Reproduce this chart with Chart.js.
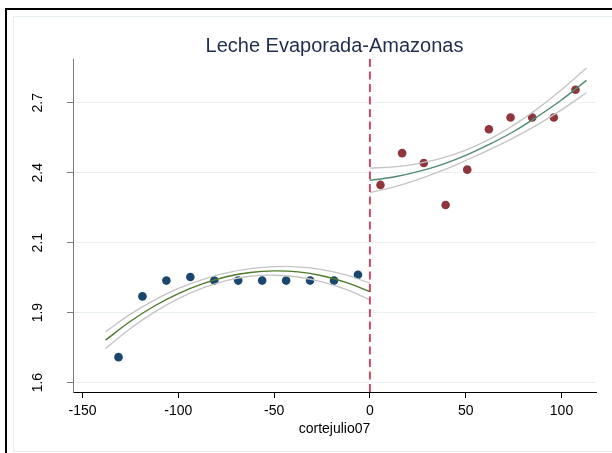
<!DOCTYPE html>
<html>
<head>
<meta charset="utf-8">
<script src="https://cdn.jsdelivr.net/npm/chart.js@4/dist/chart.umd.min.js"></script>
<style>
  html, body { margin: 0; padding: 0; background: #ffffff; }
  #wrap { width: 612px; height: 453px; position: relative; }
</style>
</head>
<body>
<div id="wrap"><canvas id="c" width="612" height="453"></canvas></div>
<script>
// ---- text ----
const chartTitle = 'Leche Evaporada-Amazonas';
const xAxisTitle = 'cortejulio07';

// ---- cutoff ----
const cutoff = 0;

// ---- binned means, left of the cutoff ----
const leftX = [-131.25, -118.75, -106.25, -93.75, -81.25, -68.75, -56.25, -43.75, -31.25, -18.75, -6.25];
const leftY = [1.700, 1.939, 2.001, 2.015, 2.001, 2.001, 2.001, 2.001, 2.001, 2.001, 2.024];

// ---- binned means, right of the cutoff ----
const rightX = [5.5, 16.8, 28.1, 39.5, 50.8, 62.1, 73.4, 84.7, 96.0, 107.3];
const rightY = [2.377, 2.502, 2.463, 2.298, 2.437, 2.596, 2.642, 2.642, 2.642, 2.751];

// ---- fitted curve with its band, left ----
const leftFitX  = [-138, -125, -112.5, -100, -87.5, -75, -62.5, -50, -37.5, -25, -12.5, 0];
const leftFit   = [1.767, 1.841, 1.901, 1.950, 1.988, 2.016, 2.033, 2.039, 2.035, 2.020, 1.994, 1.958];
const leftUpper = [1.800, 1.869, 1.924, 1.970, 2.005, 2.031, 2.048, 2.056, 2.055, 2.044, 2.023, 1.991];
const leftLower = [1.734, 1.813, 1.877, 1.930, 1.971, 2.001, 2.018, 2.022, 2.015, 1.996, 1.966, 1.925];

// ---- fitted curve with its band, right ----
const rightFitX  = [0, 12.5, 25, 37.5, 50, 62.5, 75, 87.5, 100, 113];
const rightFit   = [2.395, 2.408, 2.429, 2.457, 2.493, 2.537, 2.587, 2.646, 2.711, 2.788];
const rightUpper = [2.443, 2.448, 2.461, 2.482, 2.514, 2.557, 2.612, 2.677, 2.751, 2.837];
const rightLower = [2.347, 2.369, 2.398, 2.433, 2.473, 2.516, 2.562, 2.614, 2.672, 2.739];

// ---- axes ----
const xTickValues = [-150, -100, -50, 0, 50, 100];
const yTickValues = [1.6, 1.875, 2.15, 2.425, 2.7];
const yTickLabels = ['1.6', '1.9', '2.1', '2.4', '2.7'];
const xRange = [-155, 118];
const yRange = [1.563, 2.872];

const FONT = '"Liberation Sans", Arial, Helvetica, sans-serif';
const pts = (xs, ys) => xs.map((x, i) => ({ x: x, y: ys[i] }));

const lineStyle = (color, width) => ({
  type: 'line', borderColor: color, borderWidth: width, pointRadius: 0,
  fill: false, tension: 0.4, showLine: true
});

// page frame and title
const framePlugin = {
  id: 'frame',
  beforeDraw(chart) {
    const ctx = chart.ctx;
    ctx.save();
    ctx.fillStyle = '#ffffff';
    ctx.fillRect(0, 0, chart.width, chart.height);
    ctx.fillStyle = '#000000';
    ctx.fillRect(5, 8, chart.width - 5, 2);
    ctx.fillRect(5, 8, 2, chart.height - 8);
    ctx.strokeStyle = '#e6eeee';
    ctx.lineWidth = 1;
    ctx.beginPath();
    ctx.moveTo(chart.width, 16.5);
    ctx.lineTo(13.5, 16.5);
    ctx.lineTo(13.5, 451.5);
    ctx.lineTo(chart.width, 451.5);
    ctx.stroke();
    ctx.restore();
  },
  afterDraw(chart) {
    const ctx = chart.ctx, a = chart.chartArea;
    ctx.save();
    ctx.font = '20px ' + FONT;
    ctx.fillStyle = '#1f2d4e';
    ctx.textAlign = 'center';
    ctx.textBaseline = 'alphabetic';
    ctx.fillText(chartTitle, (a.left + a.right) / 2, 52);
    ctx.restore();
  }
};

new Chart(document.getElementById('c'), {
  data: {
    datasets: [
      Object.assign(lineStyle('#d81e47', 1.6), {
        data: [{ x: cutoff, y: yRange[0] }, { x: cutoff, y: yRange[1] }],
        tension: 0, borderDash: [8, 4.5]
      }),
      Object.assign(lineStyle('#c4c4c4', 1.3), { data: pts(leftFitX, leftUpper) }),
      Object.assign(lineStyle('#c4c4c4', 1.3), { data: pts(leftFitX, leftLower) }),
      Object.assign(lineStyle('#4d7a2a', 1.4), { data: pts(leftFitX, leftFit) }),
      Object.assign(lineStyle('#c4c4c4', 1.3), { data: pts(rightFitX, rightUpper) }),
      Object.assign(lineStyle('#c4c4c4', 1.3), { data: pts(rightFitX, rightLower) }),
      Object.assign(lineStyle('#4f8a70', 1.4), { data: pts(rightFitX, rightFit) }),
      {
        type: 'scatter', data: pts(leftX, leftY),
        backgroundColor: '#1a476f', borderWidth: 0, pointRadius: 4.3, pointHoverRadius: 4.3
      },
      {
        type: 'scatter', data: pts(rightX, rightY),
        backgroundColor: '#90353b', borderWidth: 0, pointRadius: 4.3, pointHoverRadius: 4.3
      }
    ]
  },
  options: {
    responsive: false,
    animation: false,
    events: [],
    layout: { padding: { top: 59, right: 16, left: 0, bottom: 0 } },
    plugins: { legend: { display: false }, tooltip: { enabled: false }, title: { display: false } },
    scales: {
      x: {
        type: 'linear', position: 'bottom',
        min: xRange[0], max: xRange[1],
        afterBuildTicks(scale) { scale.ticks = xTickValues.map(v => ({ value: v })); },
        afterFit(scale) { scale.height = 61; },
        grid: { display: true, drawOnChartArea: false, drawTicks: true, tickLength: 6, tickColor: '#000000', tickWidth: 1 },
        border: { display: true, color: '#000000', width: 1 },
        ticks: { color: '#000000', font: { family: FONT, size: 14 }, padding: 5, maxRotation: 0, autoSkip: false },
        title: { display: true, text: xAxisTitle, color: '#000000', font: { family: FONT, size: 14 }, padding: { top: 0, bottom: 15 } }
      },
      y: {
        type: 'linear', position: 'left',
        min: yRange[0], max: yRange[1],
        afterBuildTicks(scale) { scale.ticks = yTickValues.map(v => ({ value: v })); },
        afterFit(scale) { scale.width = 73; },
        grid: { display: true, drawOnChartArea: true, color: '#eaf1f1', lineWidth: 1, drawTicks: true, tickLength: 6, tickColor: '#7a7a7a' },
        border: { display: true, color: '#7a7a7a', width: 1 },
        ticks: {
          color: '#000000', font: { family: FONT, size: 14 },
          minRotation: 90, maxRotation: 90, crossAlign: 'center', padding: 19, autoSkip: false,
          callback(value, index) { return yTickLabels[index]; }
        }
      }
    }
  },
  plugins: [framePlugin]
});
</script>
</body>
</html>
